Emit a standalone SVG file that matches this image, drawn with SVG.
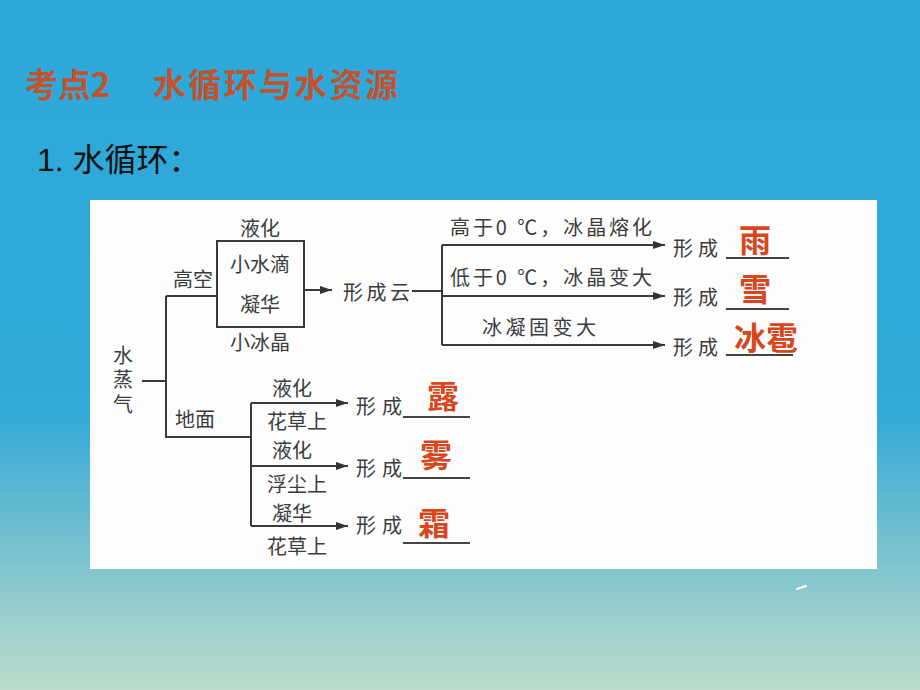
<svg xmlns="http://www.w3.org/2000/svg" width="920" height="690" viewBox="0 0 920 690">
  <defs>
    <linearGradient id="bg" x1="0" y1="0" x2="0" y2="1">
      <stop offset="0" stop-color="#2ca8da"/>
      <stop offset="0.6" stop-color="#33aad8"/>
      <stop offset="0.76" stop-color="#6cbdd1"/>
      <stop offset="1" stop-color="#bddccb"/>
    </linearGradient>
    <marker id="arr" markerUnits="userSpaceOnUse" markerWidth="12" markerHeight="8" refX="12" refY="4" orient="auto">
      <path d="M0,0 L12,4 L0,8 z" fill="#333"/>
    </marker>
    <style>
      .t { font-family: "Noto Sans CJK SC", "Liberation Serif", serif; font-size: 20px; fill: #3c3c3c; dominant-baseline: central; text-anchor: middle; }
      .ts { font-family: "Noto Sans CJK SC", "Liberation Serif", serif; font-size: 20px; fill: #3c3c3c; dominant-baseline: central; }
      .ans { font-family: "Noto Sans CJK SC", sans-serif; font-size: 32px; font-weight: bold; fill: #d8461e; dominant-baseline: central; text-anchor: middle; }
      .ln { stroke: #3a3a3a; stroke-width: 2; fill: none; }
      .ul { stroke: #444; stroke-width: 2; fill: none; }
      .ar { stroke: #3a3a3a; stroke-width: 2; fill: none; marker-end: url(#arr); }
    </style>
  </defs>

  <rect x="0" y="0" width="920" height="690" fill="url(#bg)"/>

  <g id="title">
    <text x="25" y="83" font-family="Noto Sans CJK SC, sans-serif" font-size="33" font-weight="bold" fill="#c4522c" dominant-baseline="central">考点2</text>
    <text x="153" y="83" font-family="Noto Sans CJK SC, sans-serif" font-size="33" font-weight="bold" fill="#c4522c" dominant-baseline="central" textLength="245">水循环与水资源</text>
  </g>
  <g id="subtitle">
    <text x="37" y="160" font-family="Liberation Sans, Noto Sans CJK SC, sans-serif" font-size="32" fill="#111" dominant-baseline="central">1. 水循环：</text>
  </g>

  <rect x="90" y="200" width="787" height="369" fill="#fdfdfd"/>
  <path d="M797 589 L806 586" stroke="#ffffff" stroke-width="2" stroke-linecap="round"/>

  <g id="connectors">
    <path class="ln" d="M142 381 H166 M166 296 V438 M166 296 H217 M166 437 H251"/>
    <path class="ar" d="M304 290 H332"/>
    <path class="ln" d="M412 291 H442 M442 245 V345"/>
    <path class="ar" d="M442 245 H665"/>
    <path class="ar" d="M442 296 H665"/>
    <path class="ar" d="M442 345 H665"/>
    <path class="ln" d="M251 403 V526"/>
    <path class="ar" d="M251 403 H348"/>
    <path class="ar" d="M251 466 H348"/>
    <path class="ar" d="M251 526 H348"/>
  </g>

  <g id="n-vapor">
    <text x="123" y="345" writing-mode="vertical-rl" letter-spacing="4.5" font-family="Noto Sans CJK SC, serif" font-size="20" fill="#3c3c3c">水蒸气</text>
  </g>
  <g id="n-gaokong">
    <text class="t" x="193" y="278">高空</text>
  </g>
  <g id="n-dimian">
    <text class="t" x="195" y="418">地面</text>
  </g>
  <g id="n-box">
    <text class="t" x="260" y="227">液化</text>
    <rect x="217" y="241" width="87" height="86" class="ln"/>
    <text class="t" x="260" y="263">小水滴</text>
    <text class="t" x="260" y="303">凝华</text>
    <text class="t" x="260" y="341">小冰晶</text>
  </g>
  <g id="n-cloud">
    <text class="ts" x="343" y="291" textLength="67">形成云</text>
  </g>
  <g id="n-rain">
    <text class="ts" x="450" y="226" textLength="202">高于0 ℃，冰晶熔化</text>
    <text class="ts" x="673" y="247" textLength="45">形成</text>
    <line class="ul" x1="726" y1="258" x2="789" y2="258"/>
    <text class="ans" x="755" y="238">雨</text>
  </g>
  <g id="n-snow">
    <text class="ts" x="450" y="276" textLength="202">低于0 ℃，冰晶变大</text>
    <text class="ts" x="673" y="296" textLength="45">形成</text>
    <line class="ul" x1="726" y1="309" x2="789" y2="309"/>
    <text class="ans" x="755" y="287">雪</text>
  </g>
  <g id="n-hail">
    <text class="ts" x="482" y="326" textLength="114">冰凝固变大</text>
    <text class="ts" x="673" y="346" textLength="45">形成</text>
    <line class="ul" x1="726" y1="355" x2="793" y2="355"/>
    <text class="ans" x="766" y="336" font-size="34">冰雹</text>
  </g>
  <g id="n-dew">
    <text class="t" x="292" y="387">液化</text>
    <text class="t" x="297" y="420">花草上</text>
    <text class="ts" x="356" y="405" textLength="46">形成</text>
    <line class="ul" x1="403" y1="417" x2="470" y2="417"/>
    <text class="ans" x="443" y="394">露</text>
  </g>
  <g id="n-fog">
    <text class="t" x="292" y="449">液化</text>
    <text class="t" x="297" y="483">浮尘上</text>
    <text class="ts" x="356" y="467" textLength="46">形成</text>
    <line class="ul" x1="403" y1="478" x2="470" y2="478"/>
    <text class="ans" x="436" y="453">雾</text>
  </g>
  <g id="n-frost">
    <text class="t" x="292" y="512">凝华</text>
    <text class="t" x="297" y="545">花草上</text>
    <text class="ts" x="356" y="524" textLength="46">形成</text>
    <line class="ul" x1="403" y1="543" x2="470" y2="543"/>
    <text class="ans" x="434" y="521">霜</text>
  </g>
</svg>
